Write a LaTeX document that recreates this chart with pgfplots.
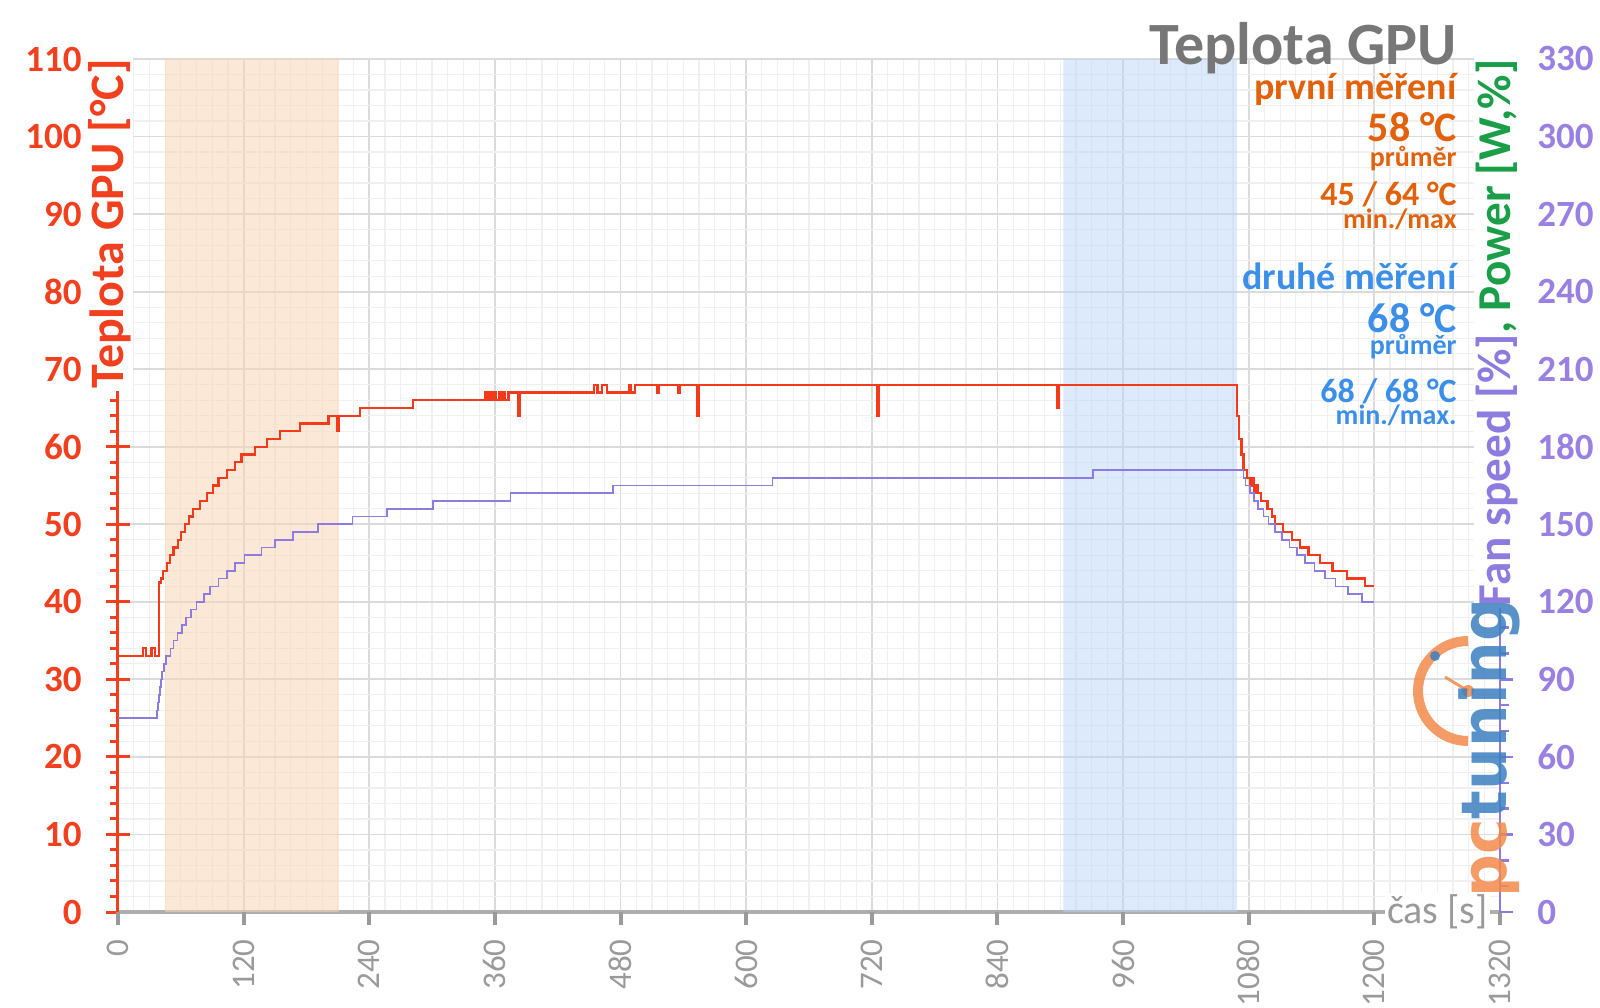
\documentclass[border=0pt]{standalone}
\usepackage{pgfplots}
\pgfplotsset{compat=1.18}
\usepackage{fontspec}
\setmainfont{Carlito}
\newfontfamily\logofont{DejaVu Sans}

\definecolor{tred}{HTML}{F2401E}
\definecolor{lred}{HTML}{F43A1A}
\definecolor{fanc}{HTML}{8E7BE0}
\definecolor{fantick}{HTML}{9A80E2}
\definecolor{pwr}{HTML}{1A9E48}
\definecolor{ann1}{HTML}{E2620C}
\definecolor{ann2}{HTML}{3B8FE8}
\definecolor{ttl}{HTML}{777777}
\definecolor{xg}{HTML}{9A9A9A}
\definecolor{shor}{HTML}{F9D5B5}
\definecolor{shbl}{HTML}{B9D5F7}
\definecolor{logoor}{HTML}{F28A4B}
\definecolor{logobl}{HTML}{3C7FC0}

% GPU temperature (step at given second)
\pgfplotstableread{
t T
0 33
24 34
27 33
32 34
35 33
39 42.5
41 43
43 44
47 45
50 46
53 47
57 48
60 49
64 50
68 51
72 52
78 53
85 54
91 55
96 56
104 57
112 58
118 59
131 60
142 61
155 62
174 63
201 64
209 62
211 64
231 65
282 66
351 67
353 66
355 67
357 66
359 67
361 66
364 67
366 66
368 67
370 66
373 67
382 64
384 67
455 68
458 67
462 68
467 67
488 68
490 67
494 68
515 67
517 68
535 67
537 68
553 64
555 68
725 64
727 68
897 65
899 68
1069 64
1071 61
1073 59
1075 57
1078 56
1081 55
1083 56
1085 54
1087 55
1089 54
1092 53
1098 52
1102 51
1105 50
1113 49
1121 48
1129 47
1137 46
1148 45
1160 44
1174 43
1191 42
1200 42
}\temp

% fan speed / power (right axis)
\pgfplotstableread{
t F
0 75
37 78
38 81
39 84
40 87
41 90
42 93
44 96
46 99
50 102
53 105
57 108
61 111
65 114
70 117
75 120
82 123
88 126
96 129
104 132
112 135
121 138
137 141
150 144
167 147
191 150
224 153
257 156
301 159
375 162
473 165
625 168
931 171
1075 168
1077 165
1081 162
1085 159
1089 156
1094 153
1099 150
1105 147
1112 144
1119 141
1126 138
1134 135
1143 132
1153 129
1163 126
1175 123
1188 120
1200 120
}\fan

\begin{document}
\begin{tikzpicture}
\begin{axis}[
  scale only axis, width=691pt, height=426.5pt,
  xmin=0, xmax=1320, ymin=0, ymax=110,
  axis x line*=bottom, axis y line*=left,
  xtick={0,120,...,1320}, minor xtick={0,15,...,1320},
  ytick={0,10,...,110}, minor y tick num=4,
  scaled ticks=false,
  /pgf/number format/assume math mode=true,
  /pgf/number format/1000 sep={},
  grid=both,
  major grid style={draw=black!14, line width=0.9pt},
  minor grid style={draw=black!6, line width=0.6pt},
  x axis line style={draw=xg!80, line width=2.2pt, -},
  y axis line style={draw=tred, line width=1.5pt, -},
  ytick align=center, xtick align=outside,
  major tick length=12pt, minor tick length=4pt,
  major x tick style={draw=none}, minor x tick style={draw=none},
  major y tick style={draw=tred, line width=1.5pt},
  minor y tick style={draw=tred, line width=1.5pt, xshift=-2pt},
  xticklabel style={yshift=-1.5pt, rotate=90, anchor=east, text=xg, inner sep=0pt,
    font=\fontsize{16.5}{16.5}\selectfont},
  yticklabel style={text=tred, anchor=east, inner sep=0pt, xshift=-12pt,
    font=\bfseries\fontsize{18.5}{18.5}\selectfont},
]
\addplot[fill=shor, fill opacity=0.55, draw=none] coordinates {(45,0) (211,0) (211,110) (45,110)} \closedcycle;
\addplot[fill=shbl, fill opacity=0.5, draw=none] coordinates {(903,0) (1069,0) (1069,110) (903,110)} \closedcycle;
\addplot[const plot, lred, line width=1.1pt] table[x=t, y=T] {\temp};
\end{axis}
\begin{axis}[
  scale only axis, width=691pt, height=426.5pt,
  xmin=0, xmax=1320, ymin=0, ymax=330,
  axis x line*=bottom, axis y line*=right,
  xtick={0,120,...,1320}, xticklabels={},
  ytick={0,30,...,330}, minor y tick num=2,
  scaled ticks=false,
  /pgf/number format/assume math mode=true,
  x axis line style={draw=none},
  y axis line style={draw=fanc, line width=1.2pt, -},
  tick align=outside,
  major tick length=6.5pt, minor tick length=4.5pt,
  major x tick style={draw=xg, line width=2pt},
  major y tick style={draw=fanc, line width=1.2pt},
  minor y tick style={draw=fanc, line width=1.2pt},
  yticklabel style={text=fantick, anchor=west, inner sep=0pt, xshift=12pt,
    font=\bfseries\fontsize{18.5}{18.5}\selectfont},
]
\addplot[const plot, fanc, line width=0.8pt] table[x=t, y=F] {\fan};
\end{axis}

% axis labels
\node[rotate=90, anchor=south east, inner sep=1pt, fill=white, text=tred,
  font=\bfseries\fontsize{24}{24}\selectfont] at (7.5pt,427.5pt) {Teplota GPU [°C]};
\node[rotate=90, anchor=south east, inner sep=1pt, fill=white,
  font=\bfseries\fontsize{23.6}{23.6}\selectfont] at (701pt,427.5pt)
  {\textcolor{fanc}{Fan speed [\%]}\textcolor{pwr}{, Power [W,\%]}};
\node[anchor=east, inner sep=1pt, fill=white, text=xg,
  font=\fontsize{20}{20}\selectfont] at (686pt,0pt) {čas [s]};

% logo
\begin{scope}[opacity=0.85]
\draw[logoor, line width=5pt] (675pt,135.5pt) arc[start angle=90, end angle=270, radius=25pt];
\draw[logoor, line width=1.5pt] (675pt,110.5pt) -- (663.5pt,117.5pt);
\fill[logoor] (675pt,110.5pt) circle (3pt);
\fill[logobl] (658.5pt,128pt) circle (2.5pt);
\node[rotate=90, anchor=base west, inner sep=0pt,
  font=\logofont\bfseries\fontsize{30}{30}\selectfont] at (694pt,7pt)
  {\scalebox{1}[1.05]{\textcolor{logoor}{pc}\textcolor{logobl}{tuning}}};
\end{scope}

% title and summary
\node[anchor=base east, inner sep=0pt, text=ttl, font=\bfseries\fontsize{30}{30}\selectfont] at (669.5pt,423.5pt) {Teplota GPU};
\begin{scope}[every node/.style={anchor=base east, inner sep=0pt}]
\node[text=ann1, font=\bfseries\fontsize{19}{19}\selectfont] at (669.5pt,406pt) {první měření};
\node[text=ann1, font=\bfseries\fontsize{21}{21}\selectfont] at (669.5pt,385pt) {58 °C};
\node[text=ann1, font=\bfseries\fontsize{14}{14}\selectfont] at (669.5pt,372.5pt) {průměr};
\node[text=ann1, font=\bfseries\fontsize{17}{17}\selectfont] at (669.5pt,353pt) {45 / 64 °C};
\node[text=ann1, font=\bfseries\fontsize{14}{14}\selectfont] at (669.5pt,341.5pt) {min./max};
\node[text=ann2, font=\bfseries\fontsize{19}{19}\selectfont] at (669.5pt,311pt) {druhé měření};
\node[text=ann2, font=\bfseries\fontsize{21}{21}\selectfont] at (669.5pt,289.5pt) {68 °C};
\node[text=ann2, font=\bfseries\fontsize{14}{14}\selectfont] at (669.5pt,278.5pt) {průměr};
\node[text=ann2, font=\bfseries\fontsize{17}{17}\selectfont] at (669.5pt,254.5pt) {68 / 68 °C};
\node[text=ann2, font=\bfseries\fontsize{14}{14}\selectfont] at (669.5pt,243.5pt) {min./max.};
\end{scope}

\pgfresetboundingbox
\path[use as bounding box] (-59pt,-47.5pt) rectangle (741pt,456pt);
\end{tikzpicture}
\end{document}
